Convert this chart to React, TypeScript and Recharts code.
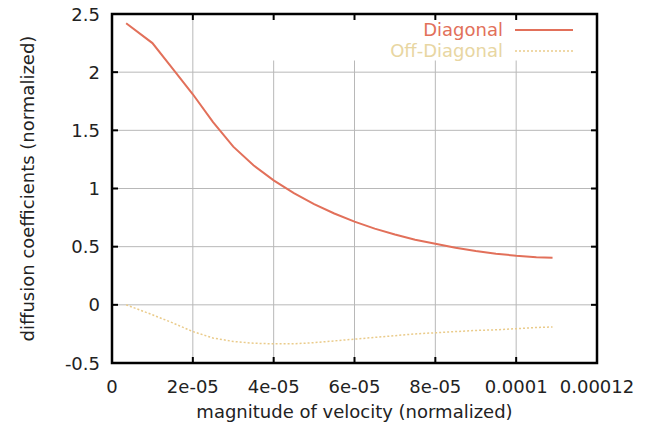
import React from 'react';
import { LineChart, Line, XAxis, YAxis, CartesianGrid, ReferenceArea } from 'recharts';

const velocity = [
  0.0000035, 0.00001, 0.000015, 0.00002, 0.000025, 0.00003, 0.000035, 0.00004, 0.000045, 0.00005, 0.000055,
  0.00006, 0.000065, 0.00007, 0.000075, 0.00008, 0.000085, 0.00009, 0.000095, 0.0001, 0.000105, 0.000109,
];
const diagonal = [
  2.42, 2.25, 2.03, 1.81, 1.57, 1.36, 1.2, 1.07, 0.96, 0.865, 0.785,
  0.715, 0.655, 0.605, 0.56, 0.525, 0.49, 0.462, 0.44, 0.422, 0.41, 0.405,
];
const offDiagonal = [
  0, -0.085, -0.155, -0.23, -0.285, -0.315, -0.33, -0.335, -0.335, -0.325, -0.31,
  -0.295, -0.28, -0.265, -0.25, -0.24, -0.23, -0.22, -0.215, -0.205, -0.195, -0.19,
];

const xTicks = [0, 0.00002, 0.00004, 0.00006, 0.00008, 0.0001, 0.00012];
const xTickLabels = ['0', '2e-05', '4e-05', '6e-05', '8e-05', '0.0001', '0.00012'];
const yTicks = [-0.5, 0, 0.5, 1, 1.5, 2, 2.5];
const yTickLabels = ['-0.5', '0', '0.5', '1', '1.5', '2', '2.5'];

const DIAG = '#e2705a';
const OFF = '#eacb8a';
const FONT = '"DejaVu Sans", sans-serif';
const FS = 18;

const W = 647;
const H = 427;
const M = { top: 14, right: 50, bottom: 0, left: 0 };
const X_AXIS_H = 64;
const Y_AXIS_W = 112;
const PLOT_W = W - M.left - M.right - Y_AXIS_W;
const PLOT_H = H - M.top - M.bottom - X_AXIS_H;
const X_MARGIN = 17;
const Y_MARGIN = 12;
const TICK = 6;

const data = velocity.map((v, i) => ({ v, diagonal: diagonal[i], offDiagonal: offDiagonal[i] }));

// tick label plus gnuplot-style inward marks on bottom and top border
function XTick(props: any) {
  const { x, y, index } = props;
  const base = y - X_MARGIN;
  const inner = index > 0 && index < xTicks.length - 1;
  return (
    <g>
      {inner && <line x1={x} y1={base} x2={x} y2={base - TICK} stroke="#000" strokeWidth={2} />}
      {inner && <line x1={x} y1={base - PLOT_H} x2={x} y2={base - PLOT_H + TICK} stroke="#000" strokeWidth={2} />}
      <text x={x} y={y + 13} textAnchor="middle" fill="#222" fontSize={FS} fontFamily={FONT}>
        {xTickLabels[index]}
      </text>
    </g>
  );
}

function YTick(props: any) {
  const { x, y, index } = props;
  const base = x + Y_MARGIN;
  const inner = index > 0 && index < yTicks.length - 1;
  return (
    <g>
      {inner && <line x1={base} y1={y} x2={base + TICK} y2={y} stroke="#000" strokeWidth={2} />}
      {inner && <line x1={base + PLOT_W} y1={y} x2={base + PLOT_W - TICK} y2={y} stroke="#000" strokeWidth={2} />}
      <text x={x} y={y + 6.5} textAnchor="end" fill="#222" fontSize={FS} fontFamily={FONT}>
        {yTickLabels[index]}
      </text>
    </g>
  );
}

// gnuplot-style key in the upper right corner
function KeyBox() {
  const rows = [
    { name: 'Diagonal', color: DIAG, text: DIAG, dash: undefined, width: 2 },
    { name: 'Off-Diagonal', color: OFF, text: '#e8d6a2', dash: '2 2', width: 1.5 },
  ];
  return (
    <div style={{ position: 'absolute', top: 19, left: 300, width: 273, fontFamily: FONT, fontSize: FS }}>
      {rows.map((r) => (
        <div key={r.name} style={{ display: 'flex', alignItems: 'center', justifyContent: 'flex-end', height: 21 }}>
          <span style={{ color: r.text, marginRight: 12, lineHeight: '21px' }}>{r.name}</span>
          <svg width={58} height={6} style={{ display: 'block' }}>
            <line x1={0} y1={3} x2={58} y2={3} stroke={r.color} strokeWidth={r.width} strokeDasharray={r.dash} />
          </svg>
        </div>
      ))}
    </div>
  );
}

const labelStyle = { fill: '#222', fontSize: FS, fontFamily: FONT };

export default function App() {
  return (
    <div style={{ position: 'absolute', left: 0, top: 0, width: W, height: H, background: '#fff' }}>
      <LineChart width={W} height={H} data={data} margin={M}>
        <CartesianGrid stroke="#b8b8b8" strokeWidth={1} />
        <ReferenceArea
          x1={0.0000355}
          x2={0.00012}
          y1={2.1}
          y2={2.5}
          fill="#ffffff"
          fillOpacity={1}
          stroke="none"
        />
        <XAxis
          dataKey="v"
          type="number"
          domain={[0, 0.00012]}
          ticks={xTicks}
          axisLine={false}
          tickLine={false}
          tickSize={0}
          tickMargin={X_MARGIN}
          height={X_AXIS_H}
          tick={<XTick />}
          label={{
            value: 'magnitude of velocity (normalized)',
            position: 'insideBottom',
            offset: 9,
            style: labelStyle,
          }}
        />
        <YAxis
          type="number"
          domain={[-0.5, 2.5]}
          ticks={yTicks}
          axisLine={false}
          tickLine={false}
          tickSize={0}
          tickMargin={Y_MARGIN}
          width={Y_AXIS_W}
          tick={<YTick />}
          label={{
            value: 'diffusion coefficients (normalized)',
            angle: -90,
            position: 'insideLeft',
            offset: 28,
            style: { ...labelStyle, textAnchor: 'middle' },
          }}
        />
        <Line
          dataKey="diagonal"
          stroke={DIAG}
          strokeWidth={2}
          dot={false}
          type="linear"
          isAnimationActive={false}
        />
        <Line
          dataKey="offDiagonal"
          stroke={OFF}
          strokeWidth={1.5}
          strokeDasharray="2 2"
          dot={false}
          type="linear"
          isAnimationActive={false}
        />
        <ReferenceArea
          x1={0}
          x2={0.00012}
          y1={-0.5}
          y2={2.5}
          fill="none"
          stroke="#000"
          strokeWidth={2.5}
        />
      </LineChart>
      <KeyBox />
    </div>
  );
}
